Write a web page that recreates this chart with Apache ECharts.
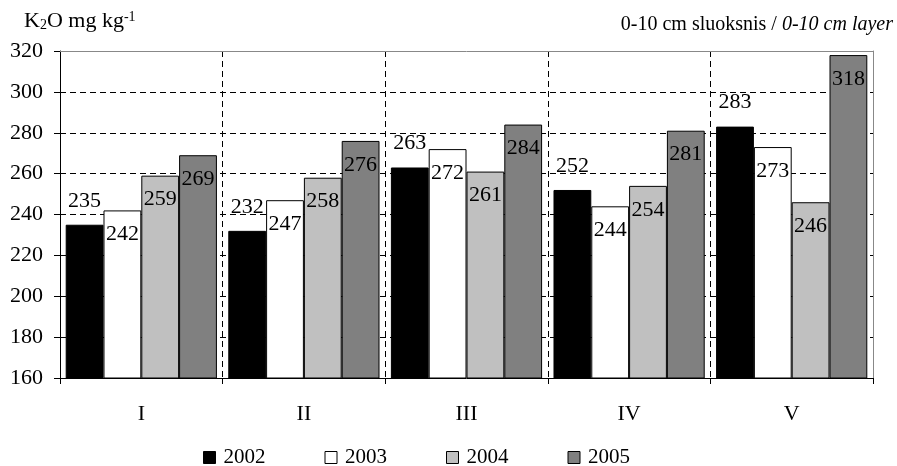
<!DOCTYPE html>
<html>
<head>
<meta charset="utf-8">
<script src="https://cdn.jsdelivr.net/npm/echarts@6/dist/echarts.min.js"></script>
<style>
  html, body { margin: 0; padding: 0; background: #fff; }
  #chart { width: 897px; height: 466px; }
</style>
</head>
<body>
<div id="chart"></div>
<script>
// Exchangeable potassium (K2O) in the 0-10 cm layer, by treatment and year
const categories = ['I', 'II', 'III', 'IV', 'V'];
const years = ['2002', '2003', '2004', '2005'];
const values2002 = [235, 232, 263, 252, 283];
const values2003 = [242, 247, 272, 244, 273];
const values2004 = [259, 258, 261, 254, 246];
const values2005 = [269, 276, 284, 281, 318];
const yTicks = { min: 160, max: 320, interval: 20 };

const FONT = '"Liberation Serif", "Times New Roman", serif';
const FS = 22;
const TITLE_FS = 20;
const fills = ['#000000', '#ffffff', '#c0c0c0', '#808080'];
const seriesValues = [values2002, values2003, values2004, values2005];

const chart = echarts.init(document.getElementById('chart'), null, { renderer: 'canvas' });

const labelFont = { fontFamily: FONT, fontSize: FS, color: '#000' };

const series = years.map((y, i) => ({
  name: y,
  type: 'bar',
  data: seriesValues[i],
  barGap: '0%',
  barCategoryGap: '7%',
  itemStyle: { color: fills[i], borderColor: '#000', borderWidth: 1 },
  label: Object.assign({
    show: true,
    position: i === 0 ? 'top' : 'insideTop',
    distance: 13
  }, labelFont),
  emphasis: { disabled: true }
}));

chart.setOption({
  animation: false,
  backgroundColor: '#fff',
  grid: { left: 60, right: 24, top: 51, bottom: 88, containLabel: false },
  legend: {
    data: years,
    left: 203,
    top: 447,
    padding: 0,
    icon: 'rect',
    itemWidth: 12,
    itemHeight: 12,
    itemGap: 59,
    itemStyle: { borderColor: '#000', borderWidth: 1 },
    textStyle: { fontFamily: FONT, fontSize: 21, color: '#000', padding: [0, 0, 0, 3] }
  },
  xAxis: [{
    type: 'category',
    data: categories,
    axisLine: { lineStyle: { color: '#000', width: 1 } },
    axisTick: { show: true, length: 6, interval: 0, lineStyle: { color: '#000' } },
    axisLabel: { margin: 25, fontFamily: FONT, fontSize: FS, color: '#000' },
    splitLine: { show: true, interval: 0, lineStyle: { color: '#000', type: [6, 4], width: 1 } }
  }, {
    type: 'category',
    position: 'top',
    data: categories,
    axisLine: { show: true, lineStyle: { color: '#888', width: 1 } },
    axisTick: { show: false },
    axisLabel: { show: false },
    splitLine: { show: false }
  }],
  yAxis: [{
    type: 'value',
    min: yTicks.min,
    max: yTicks.max,
    interval: yTicks.interval,
    axisLine: { show: true, lineStyle: { color: '#000', width: 1 } },
    axisTick: { show: true, length: 6, lineStyle: { color: '#000' } },
    axisLabel: { margin: 17, fontFamily: FONT, fontSize: FS, color: '#000' },
    splitLine: { show: true, lineStyle: { color: '#000', type: [6, 4], width: 1 } }
  }, {
    type: 'value',
    position: 'right',
    min: yTicks.min,
    max: yTicks.max,
    interval: yTicks.interval,
    axisLine: { show: true, lineStyle: { color: '#888', width: 1 } },
    axisTick: { show: false },
    axisLabel: { show: false },
    splitLine: { show: false }
  }],
  graphic: [{
    type: 'text',
    left: 24,
    top: 10,
    style: {
      text: 'K{sub|2}O mg kg{sup|-1}',
      font: FS + 'px ' + FONT,
      fill: '#000',
      rich: {
        sub: { fontSize: 14, fontFamily: FONT, verticalAlign: 'bottom', lineHeight: 14 },
        sup: { fontSize: 14, fontFamily: FONT, verticalAlign: 'top', lineHeight: 14 }
      }
    }
  }, {
    type: 'text',
    right: 4,
    top: 15,
    style: {
      text: '0-10 cm sluoksnis / {it|0-10 cm layer}',
      font: TITLE_FS + 'px ' + FONT,
      fill: '#000',
      rich: {
        it: { fontStyle: 'italic', fontSize: TITLE_FS, fontFamily: FONT }
      }
    }
  }],
  series: series
});
</script>
</body>
</html>
